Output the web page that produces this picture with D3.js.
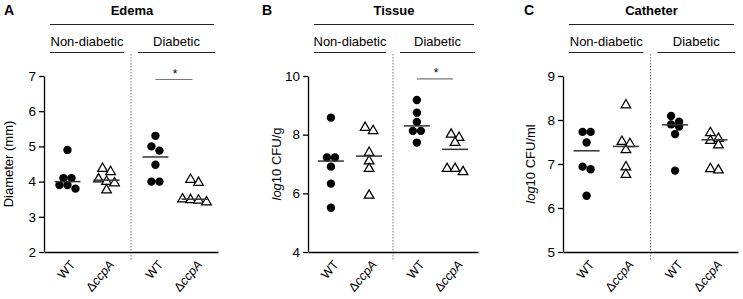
<!DOCTYPE html>
<html>
<head>
<meta charset="utf-8">
<script src="https://cdn.jsdelivr.net/npm/d3@7"></script>
<style>
  body { margin: 0; background: #fff; }
  text { font-family: "Liberation Sans", Arial, sans-serif; fill: #000; }
</style>
</head>
<body>
<div id="chart"></div>
<script>
// groups along each x axis
const groupLabels = ["WT", "ΔccpA", "WT", "ΔccpA"];
const conditions = ["Non-diabetic", "Diabetic"];
const groupSlots = [0, 1, 2.25, 3.25];

// A – Edema, diameter (mm)
const edemaValues = [
    [4.9, 4.1, 4.1, 3.9, 3.9, 3.8],
    [4.37, 4.28, 4.07, 4.0, 3.96, 3.76],
    [5.3, 5.0, 4.88, 4.48, 4.0, 4.0],
    [4.06, 3.97, 3.5, 3.48, 3.47, 3.42]
];
const edemaLines = [4.0, 4.04, 4.7, 3.5];
const edemaTicks = [2, 3, 4, 5, 6, 7];
const edemaSig = [2, 3, 6.9];

// B – Tissue, log10 CFU/g
const tissueValues = [
    [8.58, 7.22, 7.22, 6.91, 6.33, 5.51],
    [8.24, 8.13, 7.39, 7.10, 6.84, 5.93],
    [9.18, 8.75, 8.43, 8.13, 8.13, 7.73],
    [8.01, 7.90, 7.73, 6.84, 6.84, 6.73]
];
const tissueLines = [7.1, 7.27, 8.3, 7.5];
const tissueTicks = [4, 6, 8, 10];
const tissueSig = [2, 3, 9.9];

// C – Catheter, log10 CFU/ml
const catheterValues = [
    [7.73, 7.73, 7.49, 6.94, 6.88, 6.28],
    [8.34, 7.51, 7.46, 7.32, 6.93, 6.76],
    [8.09, 7.96, 7.90, 7.85, 7.68, 6.85],
    [7.71, 7.58, 7.53, 7.43, 6.89, 6.86]
];
const catheterLines = [7.3, 7.4, 7.89, 7.55];
const catheterTicks = [5, 6, 7, 8, 9];

const W = 743, H = 299;
const yTop = 76, yBottom = 252;

const panels = [
    { letter: "A", title: "Edema", unit: ["", "Diameter (mm)"], values: edemaValues, lines: edemaLines,
      ticks: edemaTicks, sig: edemaSig, x0: 44, x1: 218, letterX: 4, labelGap: 31 },
    { letter: "B", title: "Tissue", unit: ["log", "10 CFU/g"], values: tissueValues, lines: tissueLines,
      ticks: tissueTicks, sig: tissueSig, x0: 308, x1: 478, letterX: 262, labelGap: 27 },
    { letter: "C", title: "Catheter", unit: ["log", "10 CFU/ml"], values: catheterValues, lines: catheterLines,
      ticks: catheterTicks, sig: null, x0: 563, x1: 738, letterX: 524, labelGap: 28 }
];

const svg = d3.select("#chart").append("svg")
    .attr("width", W)
    .attr("height", H);

// points with close values share a row and are spread evenly around the centre
function scatterRows(values, cx, y, step, gap) {
    const sorted = values.slice().sort((a, b) => b - a);
    const rows = [];
    sorted.forEach(v => {
        const last = rows[rows.length - 1];
        if (last && Math.abs(y(v) - y(last[0])) < gap) last.push(v);
        else rows.push([v]);
    });
    const out = [];
    rows.forEach(r => {
        r.forEach((v, k) => {
            out.push({ x: cx + (k - (r.length - 1) / 2) * step, y: y(v), v });
        });
    });
    return out;
}

panels.forEach(p => {
    const g = svg.append("g");

    const x = d3.scaleLinear()
        .domain([-0.6, 3.85])
        .range([p.x0, p.x1]);

    const y = d3.scaleLinear()
        .domain(d3.extent(p.ticks))
        .range([yBottom, yTop]);

    const divX = x((groupSlots[1] + groupSlots[2]) / 2);

    // panel letter + title
    g.append("text")
        .attr("x", p.letterX).attr("y", 15)
        .style("font-size", "14px").style("font-weight", "bold")
        .text(p.letter);

    const t0 = p.x0 + 6, t1 = p.x1 - 4;
    g.append("text")
        .attr("x", (t0 + t1) / 2).attr("y", 15)
        .attr("text-anchor", "middle")
        .style("font-size", "13px").style("font-weight", "bold")
        .text(p.title);

    g.append("line")
        .attr("x1", t0).attr("x2", t1)
        .attr("y1", 24.5).attr("y2", 24.5)
        .attr("stroke", "#222").attr("stroke-width", 1.2);

    // condition headers
    const spans = [[p.x0 + 6, divX - 7], [divX + 7, p.x1 - 3]];
    conditions.forEach((c, i) => {
        const [a, b] = spans[i];
        g.append("text")
            .attr("x", (a + b) / 2).attr("y", 46)
            .attr("text-anchor", "middle")
            .style("font-size", "13px")
            .text(c);
        g.append("line")
            .attr("x1", a).attr("x2", b)
            .attr("y1", 52.5).attr("y2", 52.5)
            .attr("stroke", "#222").attr("stroke-width", 1.2);
    });

    // dotted divider
    g.append("line")
        .attr("x1", divX).attr("x2", divX)
        .attr("y1", 54).attr("y2", yBottom + 9)
        .attr("stroke", "#777").attr("stroke-width", 1)
        .attr("stroke-dasharray", "1.5,1.5");

    // y axis
    const yAxis = g.append("g")
        .attr("transform", `translate(${p.x0},0)`)
        .call(d3.axisLeft(y).tickValues(p.ticks).tickFormat(d3.format("d"))
            .tickSize(5).tickPadding(3).tickSizeOuter(0));
    yAxis.select(".domain").attr("stroke", "#000").attr("stroke-width", 1.3);
    yAxis.selectAll(".tick line").attr("stroke", "#000").attr("stroke-width", 1.3);
    yAxis.selectAll("text")
        .style("font-size", "13.5px")
        .style("font-family", "'Liberation Sans', Arial, sans-serif")
        .attr("fill", "#000");

    // x axis (line only)
    const xAxis = g.append("g")
        .attr("transform", `translate(0,${yBottom})`)
        .call(d3.axisBottom(x).tickValues([]).tickSizeOuter(0));
    xAxis.select(".domain").attr("stroke", "#000").attr("stroke-width", 1.3);

    // x labels, rotated
    groupSlots.forEach((s, i) => {
        const lab = g.append("text")
            .attr("transform", `translate(${x(s) + 5},${yBottom + 10}) rotate(-50)`)
            .attr("text-anchor", "end")
            .attr("dy", "0.35em")
            .style("font-size", "12.5px");
        if (groupLabels[i].startsWith("Δ")) {
            lab.append("tspan").text("Δ");
            lab.append("tspan").style("font-style", "italic").text(groupLabels[i].slice(1));
        } else {
            lab.text(groupLabels[i]);
        }
    });

    // y label
    const yl = g.append("text")
        .attr("transform", `translate(${p.x0 - p.labelGap},${(yTop + yBottom) / 2}) rotate(-90)`)
        .attr("text-anchor", "middle")
        .style("font-size", "13px");
    if (p.unit[0]) yl.append("tspan").style("font-style", "italic").text(p.unit[0]);
    yl.append("tspan").text(p.unit[1]);

    // points
    p.values.forEach((vals, i) => {
        const pts = scatterRows(vals, x(groupSlots[i]), y, 8, 7);
        if (i % 2 === 0) {
            g.selectAll(null).data(pts).enter().append("circle")
                .attr("cx", d => d.x).attr("cy", d => d.y)
                .attr("r", 4.2)
                .attr("fill", "#000");
        } else {
            g.selectAll(null).data(pts).enter().append("path")
                .attr("transform", d => `translate(${d.x},${d.y})`)
                .attr("d", d3.symbol(d3.symbolTriangle, 40))
                .attr("fill", "#fff")
                .attr("stroke", "#000")
                .attr("stroke-width", 1.25);
        }
        // centre line
        g.append("line")
            .attr("x1", x(groupSlots[i]) - 13).attr("x2", x(groupSlots[i]) + 13)
            .attr("y1", y(p.lines[i])).attr("y2", y(p.lines[i]))
            .attr("stroke", "#333").attr("stroke-width", 1.5);
    });

    // significance bar
    if (p.sig) {
        const sy = y(p.sig[2]);
        g.append("line")
            .attr("x1", x(groupSlots[p.sig[0]])).attr("x2", x(groupSlots[p.sig[1]]) - 2)
            .attr("y1", sy).attr("y2", sy)
            .attr("stroke", "#777").attr("stroke-width", 1.2);
        g.append("text")
            .attr("x", (x(groupSlots[p.sig[0]]) + x(groupSlots[p.sig[1]])) / 2)
            .attr("y", sy - 2)
            .attr("text-anchor", "middle")
            .style("font-size", "12px")
            .text("*");
    }
});
</script>
</body>
</html>
